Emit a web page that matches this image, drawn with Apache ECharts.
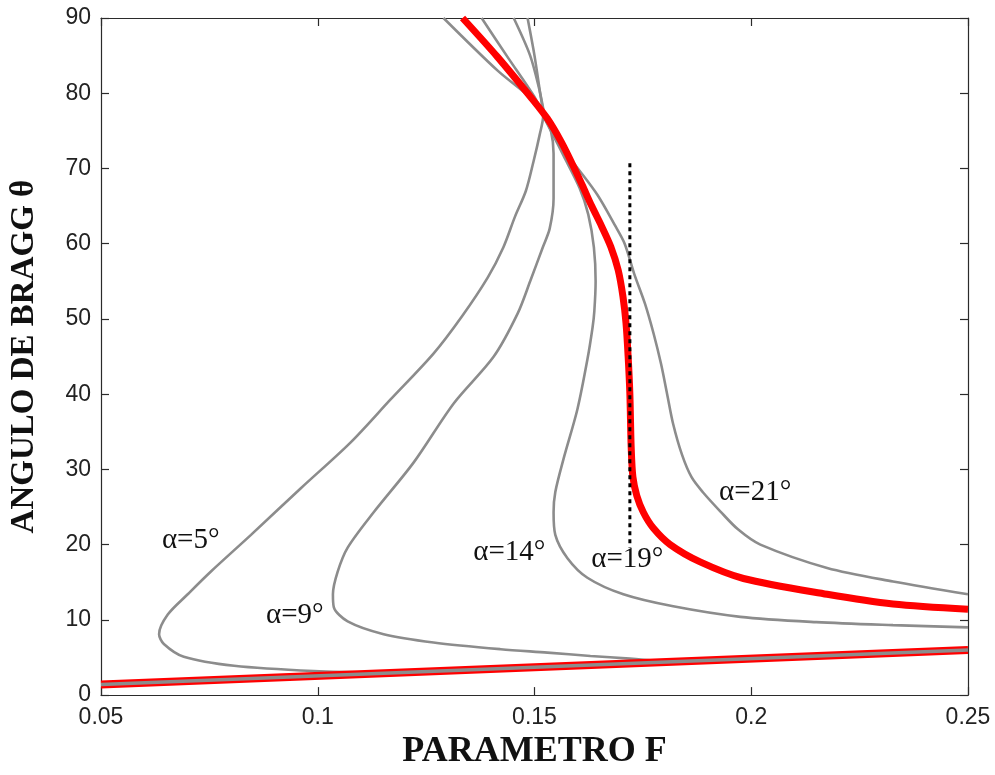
<!DOCTYPE html>
<html>
<head>
<meta charset="utf-8">
<script src="https://cdn.jsdelivr.net/npm/echarts@6/dist/echarts.min.js"></script>
<style>
  html, body { margin: 0; padding: 0; background: #fff; }
  #chart { width: 995px; height: 775px; }
</style>
</head>
<body>
<div id="chart"></div>
<script>
// Tick labels
const xTickLabels = ['0.05', '0.1', '0.15', '0.2', '0.25'];
const yTickLabels = ['0', '10', '20', '30', '40', '50', '60', '70', '80', '90'];

// Bragg angle θ (deg) versus parameter F, one curve per cut angle α: [F, θ]
const alpha5 = [
  [0.1484, 90], [0.1500, 85], [0.1513, 80], [0.1520, 77], [0.1512, 74.5],
  [0.1498, 71], [0.1480, 67], [0.1455, 63.6], [0.1428, 59.5], [0.1392, 55.5],
  [0.1332, 50.3], [0.1267, 45.4], [0.1168, 39.3], [0.1076, 33.6], [0.0961, 27.5],
  [0.0846, 21.3], [0.0753, 16.4], [0.0700, 13.4], [0.0654, 10.7], [0.0634, 8.1],
  [0.0645, 6.8], [0.0691, 5.1], [0.0807, 3.9], [0.0991, 3.2], [0.1150, 3.0]
];
const alpha9 = [
  [0.1452, 90], [0.1490, 85], [0.1512, 80.3], [0.1524, 77], [0.1538, 75],
  [0.1544, 72], [0.1544, 66], [0.1535, 62], [0.1519, 59.5], [0.1490, 55],
  [0.1461, 50.7], [0.1406, 45.0], [0.1314, 38.8], [0.1221, 30.9], [0.1129, 24.3],
  [0.1069, 19.6], [0.1046, 16.4], [0.1035, 13.4], [0.1037, 11.7], [0.1069, 9.8],
  [0.1152, 8.1], [0.1267, 7.0], [0.1422, 6.1], [0.1530, 5.65], [0.1629, 5.2],
  [0.1720, 4.85], [0.1800, 4.45]
];
const alpha14 = [
  [0.1378, 90], [0.1438, 84.8], [0.1500, 79.5], [0.1522, 76.8], [0.1545, 74.2],
  [0.1567, 71.7], [0.1604, 67.4], [0.1624, 63.9], [0.1637, 59.5], [0.1641, 55],
  [0.1638, 51], [0.1634, 48.9], [0.1622, 44.6], [0.1599, 38.0], [0.1567, 31.4],
  [0.1548, 27.0], [0.1544, 24.3], [0.1548, 21.3], [0.1576, 18.2], [0.1622, 15.6],
  [0.1705, 13.4], [0.1820, 11.8], [0.1975, 10.4], [0.2150, 9.7], [0.2327, 9.3],
  [0.25, 9.0]
];
const alpha19 = [
  [0.1334, 90], [0.1415, 84.8], [0.1491, 79.5], [0.1530, 76.6], [0.1562, 73.5],
  [0.1588, 70.5], [0.1610, 67.8], [0.1632, 65], [0.1655, 62.3], [0.1676, 59.6],
  [0.1693, 56.5], [0.1704, 53], [0.1711, 49.5], [0.1716, 45], [0.1720, 40],
  [0.1723, 33], [0.1727, 29], [0.1736, 26.5], [0.1751, 24.3], [0.1774, 22.2],
  [0.1813, 20.0], [0.1882, 17.7], [0.1982, 15.5], [0.2175, 13.4], [0.2327, 12.1],
  [0.25, 11.4]
];
const alpha21 = [
  [0.1290, 90], [0.1415, 83.0], [0.1498, 79.0], [0.1522, 76.8], [0.1560, 73],
  [0.1600, 70], [0.1645, 66.5], [0.1685, 62.5], [0.1708, 60], [0.1730, 56],
  [0.1755, 52], [0.1775, 48], [0.1792, 44], [0.1806, 40], [0.1820, 36],
  [0.1840, 32], [0.1862, 29], [0.1888, 27], [0.1929, 24.4], [0.1970, 22],
  [0.2021, 20.0], [0.2175, 16.9], [0.2327, 15.1], [0.25, 13.4]
];
// Low-angle branch shared by all cuts
const lowBranch = [[0.05, 1.4], [0.25, 6.0]];
// Vertical guide at the α=19° turning value of F
const guideF = [[0.172, 70.7], [0.172, 19.6]];

const GRAY = '#8c8c8c';
const RED = '#ff0000';
const AXIS = '#2b2b2b';
const serif = '"Liberation Serif", "DejaVu Serif", serif';
const sans = '"Liberation Sans", Arial, sans-serif';

function curveLabel(text, at) {
  return {
    silent: true,
    data: [{
      coord: at, symbol: 'circle', symbolSize: 1,
      itemStyle: { color: 'rgba(0,0,0,0)' },
      label: { show: true, position: 'inside', formatter: text,
               fontFamily: serif, fontSize: 29, color: '#111' }
    }]
  };
}

function grayCurve(name, data, labelAt) {
  return {
    name: name, type: 'line', data: data, showSymbol: false, smooth: 0.3,
    lineStyle: { color: GRAY, width: 2.6 }, z: 2,
    markPoint: curveLabel(name, labelAt)
  };
}

const chart = echarts.init(document.getElementById('chart'), null, { renderer: 'canvas' });

const xBase = {
  type: 'value', min: 0.05, max: 0.25, interval: 0.05,
  axisLine: { show: true, onZero: false, lineStyle: { color: AXIS, width: 1.2 } },
  axisTick: { show: true, inside: true, length: 8, lineStyle: { color: AXIS, width: 1.2 } },
  splitLine: { show: false }
};
const yBase = {
  type: 'value', min: 0, max: 90, interval: 10,
  axisLine: { show: true, onZero: false, lineStyle: { color: AXIS, width: 1.2 } },
  axisTick: { show: true, inside: true, length: 8, lineStyle: { color: AXIS, width: 1.2 } },
  splitLine: { show: false }
};

chart.setOption({
  animation: false,
  backgroundColor: '#ffffff',
  grid: { left: 100, right: 27, top: 18, bottom: 74, containLabel: false },
  xAxis: [
    Object.assign({}, xBase, {
      position: 'bottom',
      axisLabel: {
        show: true, margin: 11, color: '#222', fontFamily: sans, fontSize: 23,
        formatter: v => xTickLabels[Math.round((v - 0.05) / 0.05)]
      },
      name: 'PARAMETRO F', nameLocation: 'middle', nameGap: 38,
      nameTextStyle: { fontFamily: serif, fontSize: 36, color: '#111', fontWeight: 'bold' }
    }),
    Object.assign({}, xBase, { position: 'top', axisLabel: { show: false } })
  ],
  yAxis: [
    Object.assign({}, yBase, {
      position: 'left',
      axisLabel: {
        show: true, margin: 10, color: '#222', fontFamily: sans, fontSize: 23,
        formatter: v => yTickLabels[Math.round(v / 10)]
      },
      name: 'ANGULO DE BRAGG θ', nameLocation: 'middle', nameRotate: 90, nameGap: 60,
      nameTextStyle: { fontFamily: serif, fontSize: 33, color: '#111', fontWeight: 'bold' }
    }),
    Object.assign({}, yBase, { position: 'right', axisLabel: { show: false } })
  ],
  series: [
    grayCurve('α=5°', alpha5, [0.0707, 20.6]),
    grayCurve('α=9°', alpha9, [0.0947, 10.6]),
    grayCurve('α=14°', alpha14, [0.1442, 19.0]),
    grayCurve('α=21°', alpha21, [0.2009, 26.9]),
    {
      name: 'low', type: 'line', data: lowBranch, showSymbol: false,
      lineStyle: { color: RED, width: 8 }, z: 3
    },
    {
      name: 'low-core', type: 'line', data: lowBranch, showSymbol: false,
      lineStyle: { color: GRAY, width: 3.5 }, z: 4
    },
    {
      name: 'α=19°', type: 'line', data: alpha19, showSymbol: false, smooth: 0.3,
      lineStyle: { color: RED, width: 7 }, z: 5,
      markPoint: curveLabel('α=19°', [0.1714, 18.0])
    },
    {
      name: 'guide', type: 'line', data: guideF, showSymbol: false,
      lineStyle: { color: '#000', width: 3, type: [4, 4] }, z: 6
    }
  ]
});
</script>
</body>
</html>
